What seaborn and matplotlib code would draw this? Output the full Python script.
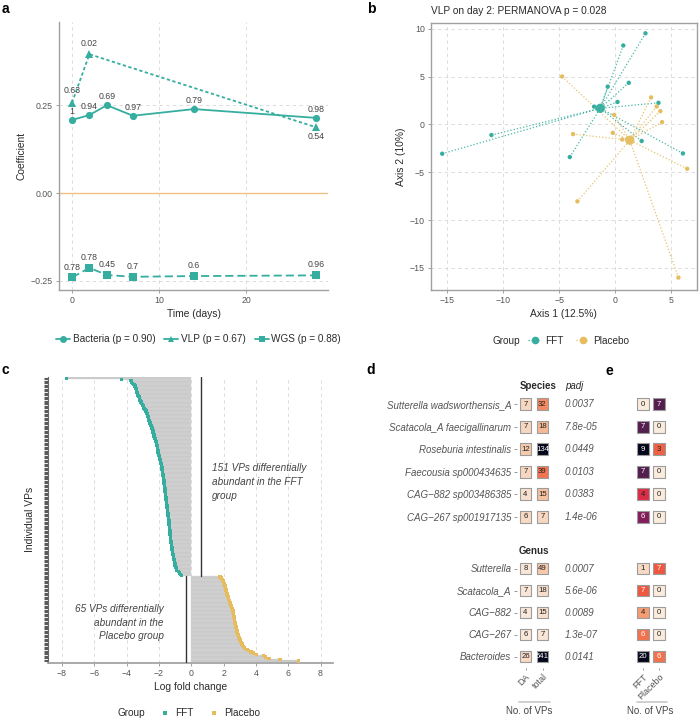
import numpy as np
import pandas as pd
import matplotlib
matplotlib.use("Agg")
import matplotlib.pyplot as plt
import seaborn as sns
from matplotlib.lines import Line2D

# ---------------- data ----------------
# panel a
days = [0, 2, 4, 7, 14, 28]
bacteria_coef = [0.208, 0.222, 0.250, 0.220, 0.239, 0.214]
bacteria_plab = ["1", "0.94", "0.69", "0.97", "0.79", "0.98"]
vlp_days = [0, 2, 28]
vlp_coef = [0.257, 0.395, 0.1875]
vlp_plab = ["0.63", "0.02", "0.54"]
wgs_coef = [-0.240, -0.2125, -0.233, -0.238, -0.236, -0.234]
wgs_plab = ["0.78", "0.78", "0.45", "0.7", "0.6", "0.96"]
series_names = ["Bacteria", "VLP", "WGS"]
series_pvals = ["0.90", "0.67", "0.88"]

# panel b (PCoA coordinates)
fft_ax1 = [2.70, 0.72, -0.67, 1.21, 0.21, 3.86, -1.88, -11.04, -15.43, -4.05, 2.36, 6.04]
fft_ax2 = [9.52, 8.25, 3.95, 4.35, 2.35, 2.26, 1.86, -1.11, -3.06, -3.41, -1.73, -3.03]
plc_ax1 = [-4.74, 3.20, 3.70, 4.03, 4.18, -0.09, -3.76, -0.21, 0.63, 6.42, -3.37, 5.64]
plc_ax2 = [5.01, 2.82, 1.88, 1.39, 0.24, 1.00, -1.01, -0.88, -1.57, -4.63, -8.04, -16.00]

# panel c (log fold changes of individual VPs)
fft_lfc = [-7.72, -4.31, -3.74, -3.70, -3.65, -3.55, -3.49, -3.46, -3.43, -3.41,
           -3.39, -3.37, -3.33, -3.29, -3.25, -3.22, -3.20, -3.18, -3.12, -3.07,
           -3.03, -3.00, -2.97, -2.92, -2.86, -2.81, -2.77, -2.74, -2.71, -2.68,
           -2.66, -2.64, -2.62, -2.59, -2.55, -2.52, -2.49, -2.46, -2.43, -2.41,
           -2.38, -2.36, -2.34, -2.32, -2.31, -2.28, -2.25, -2.22, -2.19, -2.17,
           -2.15, -2.13, -2.11, -2.10, -2.08, -2.06, -2.05, -2.03, -2.02, -2.00,
           -1.98, -1.96, -1.93, -1.91, -1.89, -1.87, -1.86, -1.84, -1.82, -1.81,
           -1.79, -1.78, -1.77, -1.76, -1.74, -1.73, -1.72, -1.71, -1.70, -1.69,
           -1.68, -1.67, -1.66, -1.65, -1.64, -1.63, -1.62, -1.61, -1.60, -1.59,
           -1.58, -1.57, -1.56, -1.55, -1.54, -1.53, -1.52, -1.51, -1.50, -1.49,
           -1.48, -1.47, -1.46, -1.45, -1.44, -1.42, -1.41, -1.40, -1.39, -1.38,
           -1.37, -1.37, -1.36, -1.35, -1.35, -1.34, -1.33, -1.33, -1.32, -1.31,
           -1.30, -1.29, -1.28, -1.27, -1.26, -1.25, -1.24, -1.23, -1.22, -1.20,
           -1.19, -1.17, -1.16, -1.15, -1.13, -1.12, -1.11, -1.09, -1.07, -1.05,
           -1.04, -1.02, -1.01, -0.97, -0.94, -0.92, -0.91, -0.80, -0.72, -0.66,
           -0.60]
placebo_lfc = [1.78, 1.85, 1.92, 1.97, 2.00, 2.03, 2.05, 2.08, 2.10, 2.12,
               2.14, 2.16, 2.18, 2.20, 2.23, 2.26, 2.29, 2.32, 2.35, 2.38,
               2.40, 2.43, 2.46, 2.49, 2.52, 2.54, 2.57, 2.59, 2.61, 2.62,
               2.63, 2.65, 2.66, 2.67, 2.68, 2.70, 2.72, 2.74, 2.76, 2.78,
               2.80, 2.82, 2.84, 2.86, 2.89, 2.92, 2.95, 2.99, 3.02, 3.06,
               3.10, 3.14, 3.18, 3.23, 3.30, 3.45, 3.55, 3.70, 3.85, 4.05,
               4.45, 4.60, 4.80, 5.50, 6.65]
fft_ref_line = 0.60
placebo_ref_line = -0.33

# panels d and e
species = ["Sutterella wadsworthensis_A", "Scatacola_A faecigallinarum",
           "Roseburia intestinalis", "Faecousia sp000434635",
           "CAG\u2212882 sp003486385", "CAG\u2212267 sp001917135"]
species_da = [7, 7, 12, 7, 4, 6]
species_total = [32, 18, 134, 39, 15, 7]
species_padj = ["0.0037", "7.8e-05", "0.0449", "0.0103", "0.0383", "1.4e-06"]
species_fft = [0, 7, 9, 7, 4, 6]
species_placebo = [7, 0, 3, 0, 0, 0]
genus = ["Sutterella", "Scatacola_A", "CAG\u2212882", "CAG\u2212267", "Bacteroides"]
genus_da = [8, 7, 4, 6, 26]
genus_total = [49, 18, 15, 7, 541]
genus_padj = ["0.0007", "5.6e-06", "0.0089", "1.3e-07", "0.0141"]
genus_fft = [1, 7, 4, 6, 20]
genus_placebo = [7, 0, 0, 0, 6]

# ---------------- style ----------------
sns.set_theme(style="white")
plt.rcParams["font.family"] = ["Liberation Sans", "DejaVu Sans"]
TEAL = "#35AE9F"
GOLD = "#E5BD5F"
ZERO = "#F2C07E"
TICKC = "#555555"
TITLEC = "#2B2B2B"
SPINEC = "#A0A0A0"
GRIDC = "#D6D6D6"
DASH = (0, (4, 4))

W, H = 700, 726
fig = plt.figure(figsize=(7, 7.26), dpi=100)


def add_ax(l, t, r, b):
    return fig.add_axes([l / W, 1 - b / H, (r - l) / W, (b - t) / H])


def fx(x):
    return x / W


def fy(y):
    return 1 - y / H


def style_ticks(ax, size=6.3):
    ax.tick_params(axis="both", which="both", bottom=True, left=True, length=2.5,
                   width=0.7, color=SPINEC, labelsize=size, labelcolor=TICKC, pad=2)


# ---------------- panel a ----------------
axa = add_ax(59.3, 21.7, 328, 290)
dfa = pd.concat([
    pd.DataFrame({"Time": days, "Coef": bacteria_coef, "Data": "Bacteria", "lab": bacteria_plab,
                  "off": 6.3}),
    pd.DataFrame({"Time": vlp_days, "Coef": vlp_coef, "Data": "VLP", "lab": vlp_plab,
                  "off": [8.5, 7.5, -7.0]}),
    pd.DataFrame({"Time": days, "Coef": wgs_coef, "Data": "WGS", "lab": wgs_plab, "off": 7.5}),
], ignore_index=True)
axa.axhline(0, color=ZERO, lw=1.0, zorder=1)
markers_a = {"Bacteria": "o", "VLP": "^", "WGS": "s"}
dashes_a = {"Bacteria": "", "VLP": (1.8, 1.4), "WGS": (4.5, 2.2)}
sns.lineplot(data=dfa, x="Time", y="Coef", style="Data", markers=markers_a, dashes=dashes_a,
             color=TEAL, lw=1.3, markersize=5.2, markeredgewidth=0, estimator=None,
             legend=False, ax=axa, zorder=3)
for _, r in dfa.iterrows():
    axa.annotate(r["lab"], (r["Time"], r["Coef"]), xytext=(0, r["off"]),
                 textcoords="offset points", ha="center", va="center", fontsize=6.3,
                 color="#444444")
axa.set_xlim(-1.46, 29.4)
axa.set_ylim(-0.2756, 0.4875)
axa.set_xticks([0, 10, 20])
axa.set_yticks([-0.25, 0, 0.25])
axa.set_yticklabels(["\u22120.25", "0.00", "0.25"])
axa.grid(True, ls=DASH, color=GRIDC, lw=0.6)
axa.set_axisbelow(True)
for s in ["top", "right"]:
    axa.spines[s].set_visible(False)
for s in ["left", "bottom"]:
    axa.spines[s].set_color(SPINEC)
    axa.spines[s].set_linewidth(1.0)
style_ticks(axa)
axa.set_xlabel("Time (days)", fontsize=7.4, color=TITLEC, labelpad=3)
axa.set_ylabel("Coefficient", fontsize=7.4, color=TITLEC, labelpad=3)
handles_a = [Line2D([], [], color=TEAL, lw=1.3, marker=markers_a[n], markersize=5,
                    markeredgewidth=0) for n in series_names]
labels_a = [f"{n} (p = {p})" for n, p in zip(series_names, series_pvals)]
fig.legend(handles_a, labels_a, loc="center", bbox_to_anchor=(fx(198.5), fy(339)), ncol=3,
           frameon=False, fontsize=7.2, handlelength=1.4, handletextpad=0.25,
           columnspacing=0.9, borderaxespad=0, borderpad=0, labelcolor=TITLEC)

# ---------------- panel b ----------------
axb = add_ax(431, 22.7, 696.7, 290)
dfb = pd.concat([
    pd.DataFrame({"Axis1": fft_ax1, "Axis2": fft_ax2, "Group": "FFT"}),
    pd.DataFrame({"Axis1": plc_ax1, "Axis2": plc_ax2, "Group": "Placebo"}),
], ignore_index=True)
pal = {"FFT": TEAL, "Placebo": GOLD}
cent = dfb.groupby("Group")[["Axis1", "Axis2"]].mean().reset_index()
for _, r in dfb.iterrows():
    c = cent[cent.Group == r.Group].iloc[0]
    axb.plot([r.Axis1, c.Axis1], [r.Axis2, c.Axis2], ls=(0, (1, 1.6)), lw=0.9,
             color=pal[r.Group], alpha=0.9, zorder=2)
sns.scatterplot(data=dfb, x="Axis1", y="Axis2", hue="Group", palette=pal, s=10, linewidth=0,
                legend=False, ax=axb, zorder=3)
sns.scatterplot(data=cent, x="Axis1", y="Axis2", hue="Group", palette=pal, s=45, linewidth=0,
                legend=False, ax=axb, zorder=4, alpha=0.95)
axb.set_xlim(-16.43, 7.27)
axb.set_ylim(-17.3, 10.63)
axb.set_xticks([-15, -10, -5, 0, 5])
axb.set_yticks([-15, -10, -5, 0, 5, 10])
axb.set_xticklabels(["\u221215", "\u221210", "\u22125", "0", "5"])
axb.set_yticklabels(["\u221215", "\u221210", "\u22125", "0", "5", "10"])
axb.grid(True, ls=DASH, color=GRIDC, lw=0.6)
axb.set_axisbelow(True)
for s in axb.spines.values():
    s.set_color(SPINEC)
    s.set_linewidth(1.0)
style_ticks(axb)
axb.set_xlabel("Axis 1 (12.5%)", fontsize=7.4, color=TITLEC, labelpad=3)
axb.set_ylabel("Axis 2 (10%)", fontsize=7.4, color=TITLEC, labelpad=3)
fig.text(fx(431), fy(11), "VLP on day 2: PERMANOVA p = 0.028", fontsize=7.3, color=TITLEC,
         ha="left", va="center")
fig.text(fx(492.7), fy(340.7), "Group", fontsize=7.2, color=TITLEC, ha="left", va="center")
handles_b = [Line2D([], [], color=pal[g], ls=(0, (1, 1.6)), lw=0.9, marker="o", markersize=5.5,
                    markeredgewidth=0) for g in ["FFT", "Placebo"]]
fig.legend(handles_b, ["FFT", "Placebo"], loc="center left",
           bbox_to_anchor=(fx(528), fy(340.7)), ncol=2, frameon=False, fontsize=7.2,
           handlelength=1.3, handletextpad=0.4, columnspacing=1.3, borderaxespad=0,
           borderpad=0, labelcolor=TITLEC)

# ---------------- panel c ----------------
axc = add_ax(48, 376.7, 333, 662.5)
lfc_all = fft_lfc + placebo_lfc
n_all = len(lfc_all)
vp_ids = [f"VP{i + 1}" for i in range(n_all)]
dfc = pd.DataFrame({"VP": vp_ids, "LFC": lfc_all,
                    "Group": ["FFT"] * len(fft_lfc) + ["Placebo"] * len(placebo_lfc),
                    "row": np.arange(n_all)})
sns.barplot(data=dfc, x="LFC", y="VP", order=vp_ids, orient="h", color="#C8C8C8",
            saturation=1, width=1.0, edgecolor="#D9D9D9", linewidth=0.25, ax=axc, zorder=2)
sns.scatterplot(data=dfc, x="LFC", y="row", hue="Group", palette=pal, s=6, linewidth=0,
                marker="s", legend=False, ax=axc, zorder=4)
nf = len(fft_lfc)
axc.plot([fft_ref_line, fft_ref_line], [-0.5, nf - 0.5], color="#333333", lw=1.0, zorder=5)
axc.plot([placebo_ref_line, placebo_ref_line], [nf - 0.5, n_all - 0.5], color="#333333",
         lw=1.0, zorder=5)
axc.set_xlim(-8.87, 8.77)
axc.set_ylim(n_all - 0.5 + 0.6, -0.5 - 0.6)
axc.set_xticks([-8, -6, -4, -2, 0, 2, 4, 6, 8])
axc.set_xticklabels(["\u22128", "\u22126", "\u22124", "\u22122", "0", "2", "4", "6", "8"])
axc.grid(True, axis="x", ls=DASH, color=GRIDC, lw=0.6)
axc.grid(False, axis="y")
axc.set_axisbelow(True)
for s in ["top", "right"]:
    axc.spines[s].set_visible(False)
axc.spines["bottom"].set_color(SPINEC)
axc.spines["left"].set_color("#666666")
axc.spines["left"].set_linewidth(0.8)
style_ticks(axc)
axc.tick_params(axis="y", labelleft=False, length=3.2, width=0.8, color="#5A5A5A")
axc.set_xlabel("Log fold change", fontsize=7.4, color=TITLEC, labelpad=3)
axc.set_ylabel("Individual VPs", fontsize=7.4, color=TITLEC, labelpad=6)
axc.text(1.3, 79, "151 VPs differentially\nabundant in the FFT\ngroup", fontsize=7.2,
         style="italic", color="#444444", ha="left", va="center", linespacing=1.45, zorder=6)
axc.text(-1.7, 186, "65 VPs differentially\nabundant in the\nPlacebo group", fontsize=7.2,
         style="italic", color="#444444", ha="right", va="center", linespacing=1.45, zorder=6)
fig.text(fx(118), fy(713), "Group", fontsize=7.2, color=TITLEC, ha="left", va="center")
handles_c = [Line2D([], [], color=pal[g], ls="", marker="s", markersize=2.2,
                    markeredgewidth=0) for g in ["FFT", "Placebo"]]
fig.legend(handles_c, ["FFT", "Placebo"], loc="center left", bbox_to_anchor=(fx(160), fy(713)),
           ncol=2, frameon=False, fontsize=7.2, handlelength=1.0, handletextpad=0.5,
           columnspacing=1.6, borderaxespad=0, borderpad=0, labelcolor=TITLEC)


# ---------------- panels d, e ----------------
def tile_block(ax, names, col_labels, cols, text_thresh, show_y, show_x):
    recs = []
    for ci, vals in enumerate(cols):
        for ri, v in enumerate(vals):
            recs.append({"col": ci, "row": ri, "n": v})
    df = pd.DataFrame(recs)
    vmax = df["n"].max()
    sns.scatterplot(data=df, x="col", y="row", hue="n", hue_norm=(0, vmax), palette="rocket_r",
                    marker="s", s=72, edgecolor="#9C9C9C", linewidth=0.8, legend=False, ax=ax)
    for _, r in df.iterrows():
        ax.text(r["col"], r["row"], str(int(r["n"])), ha="center", va="center", fontsize=5.6,
                color="white" if r["n"] > text_thresh else "#222222")
    ax.set_xlim(-0.5, len(cols) - 0.5)
    ax.set_ylim(len(names) - 0.5, -0.5)
    for s in ax.spines.values():
        s.set_visible(False)
    ax.grid(False)
    ax.set_xlabel("")
    ax.set_ylabel("")
    ax.set_yticks(range(len(names)))
    if show_y:
        ax.set_yticklabels(names, fontsize=7, style="italic", color="#555555")
        ax.tick_params(axis="y", left=True, length=2.5, width=0.6, color="#888888", pad=1.5)
    else:
        ax.tick_params(axis="y", left=False, labelleft=False)
    ax.set_xticks(range(len(cols)))
    if show_x:
        ax.set_xticklabels(col_labels, rotation=45, ha="right", va="top",
                           rotation_mode="anchor", fontsize=6.5, color="#555555")
        ax.tick_params(axis="x", bottom=True, length=1.5, width=0.6, color="#888888", pad=2)
    else:
        ax.tick_params(axis="x", bottom=False, labelbottom=False)


ax_ds = add_ax(517.0, 392.9, 551.0, 527.9)
tile_block(ax_ds, species, ["DA", "total"], [species_da, species_total], 100, True, False)
ax_dg = add_ax(517.0, 557.5, 551.0, 667.5)
tile_block(ax_dg, genus, ["DA", "total"], [genus_da, genus_total], 100, True, True)
ax_es = add_ax(634.8, 392.9, 666.8, 527.9)
tile_block(ax_es, species, ["FFT", "Placebo"], [species_fft, species_placebo], 4, False, False)
ax_eg = add_ax(634.8, 557.5, 666.8, 667.5)
tile_block(ax_eg, genus, ["FFT", "Placebo"], [genus_fft, genus_placebo], 4, False, True)

for ax, vals in [(ax_ds, species_padj), (ax_dg, genus_padj)]:
    for i, v in enumerate(vals):
        ax.text(2.3, i, v, fontsize=7, style="italic", color="#555555", ha="left",
                va="center", clip_on=False)

fig.text(fx(537.7), fy(386), "Species", fontsize=7, weight="bold", color=TITLEC,
         ha="center", va="center")
fig.text(fx(565), fy(386), "padj", fontsize=7, style="italic", color=TITLEC, ha="left",
         va="center")
fig.text(fx(534), fy(550.7), "Genus", fontsize=7, weight="bold", color=TITLEC, ha="center",
         va="center")
for xc, x0, x1 in [(529, 519, 550), (650, 636.7, 667)]:
    fig.add_artist(Line2D([fx(x0), fx(x1)], [fy(701.7), fy(701.7)], color="#C8C8C8", lw=1.2))
    fig.text(fx(xc), fy(711), "No. of VPs", fontsize=7, color="#444444", ha="center",
             va="center")

# panel letters
for lab, x, y in [("a", 2, 9), ("b", 367, 9), ("c", 1, 370), ("d", 366, 370), ("e", 606, 371)]:
    fig.text(fx(x), fy(y), lab, fontsize=10, weight="bold", color="black", ha="left",
             va="center")

fig.savefig("out.png", dpi=100)
